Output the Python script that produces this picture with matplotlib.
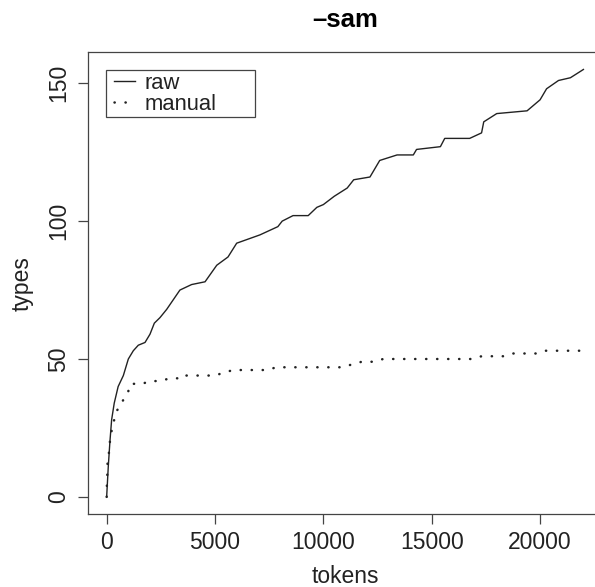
#!/usr/bin/env python3
# -*- coding: utf-8 -*-

import matplotlib
matplotlib.use('Agg')
import matplotlib.pyplot as plt
from matplotlib.lines import Line2D
from matplotlib.legend_handler import HandlerLine2D

# raw: number of types against tokens
raw_tokens = [0, 75, 150, 230, 350, 530, 770, 1000, 1230, 1460, 1770, 2000,
              2200, 2460, 2770, 3380, 3920, 4540, 5080, 5600, 6000, 7070,
              7900, 8100, 8600, 9300, 9700, 10000, 10500, 11100, 11400,
              12150, 12600, 13400, 14150, 14300, 15400, 15600, 16750, 17300,
              17400, 18000, 19400, 20000, 20300, 20850, 21400, 22000]
raw_types = [0, 11, 20, 28, 34, 40, 44, 50, 53, 55, 56, 59,
             63, 65, 68, 75, 77, 78, 84, 87, 92, 95,
             98, 100, 102, 102, 105, 106, 109, 112, 115,
             116, 122, 124, 124, 126, 127, 130, 130, 132,
             136, 139, 140, 144, 148, 151, 152, 155]

# manual
manual_tokens = [0, 10, 30, 40, 105, 150, 230, 350, 460, 660, 950, 1100,
                 1640, 2000, 2460, 2920, 3380, 3460, 5000, 5380, 5840, 7380,
                 7840, 10900, 11300, 11770, 12300, 12760, 16840, 17300,
                 18300, 18760, 19840, 20230, 22000]
manual_types = [0, 4, 8, 12, 16, 20, 24, 28, 31, 34, 37, 41,
                41, 42, 42, 43, 43, 44, 44, 45, 46, 46,
                47, 47, 48, 49, 49, 50, 50, 51,
                51, 52, 52, 53, 53]

x_ticks = [0, 5000, 10000, 15000, 20000]
y_ticks = [0, 50, 100, 150]

FS = 16.5
INK = '#222222'


def plot_curves():
    plt.rcParams['font.family'] = ['Liberation Sans', 'DejaVu Sans']
    fig = plt.figure(figsize=(5.95, 5.87), dpi=100)
    ax = fig.add_axes([0.1472, 0.1244, 0.8654, 0.7864])

    ax.plot(raw_tokens, raw_types, color=INK, lw=1.0, label='raw')
    ax.plot(manual_tokens, manual_types, color=INK, lw=1.8,
            linestyle=(0, (0.1, 4.3)), dash_capstyle='round',
            label='manual')

    # R style 4% padding around the data
    ax.set_xlim(-880, 22880)
    ax.set_ylim(-6.2, 161.2)

    ax.set_xticks(x_ticks)
    ax.set_yticks(y_ticks)
    ax.set_yticklabels([str(v) for v in y_ticks], rotation=90, va='center')
    ax.tick_params(axis='both', direction='out', length=7.2, width=0.9,
                   color='#444444', labelsize=FS, labelcolor=INK)
    ax.tick_params(axis='x', pad=4.8)
    ax.tick_params(axis='y', pad=5.2)
    for sp in ax.spines.values():
        sp.set_color('#444444')
        sp.set_linewidth(0.9)

    ax.set_xlabel('tokens', fontsize=FS, color=INK)
    ax.set_ylabel('types', fontsize=FS, color=INK)
    ax.xaxis.set_label_coords(0.5, -0.111)
    ax.yaxis.set_label_coords(-0.1055, 0.5)

    fig.text(0.58, 0.954, '\u2013sam', fontsize=18.5, fontweight='bold',
             ha='center', va='baseline', color='black')

    leg = ax.legend(loc='upper left', bbox_to_anchor=(0.0357, 0.9619, 0.2894, 0),
                    mode='expand', borderaxespad=0, fontsize=15.8,
                    borderpad=0.12, labelspacing=0.0, handlelength=1.2,
                    handletextpad=0.45, fancybox=False, framealpha=1,
                    edgecolor='#444444',
                    handler_map={Line2D: HandlerLine2D(xpad=0.26)})
    leg.get_frame().set_linewidth(0.9)
    for t in leg.get_texts():
        t.set_color(INK)

    fig.savefig('out.png', dpi=100)


if __name__ == '__main__':
    plot_curves()
